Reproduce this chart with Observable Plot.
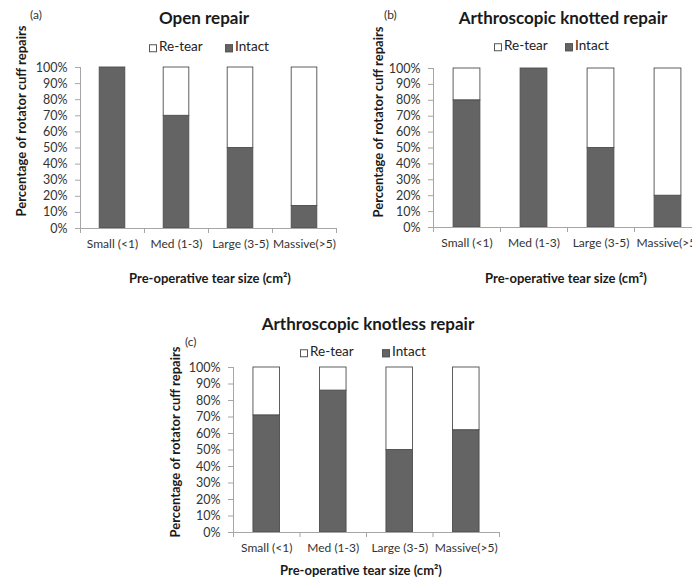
<!DOCTYPE html>
<html>
<head>
<meta charset="utf-8">
<script src="https://cdn.jsdelivr.net/npm/d3@7"></script>
<script src="https://cdn.jsdelivr.net/npm/@observablehq/plot@0.6"></script>
<style>
  html, body { margin: 0; padding: 0; background: #fff; }
  #root { position: relative; width: 692px; height: 580px; overflow: hidden; background: #fff; font-family: Lato, "Open Sans", sans-serif; }
  .lbl { position: absolute; white-space: nowrap; line-height: 1; color: #222; }
  .sq { display: inline-block; width: 8px; height: 8px; border: 1px solid #555; margin-right: 2px; vertical-align: -0.04em; box-sizing: border-box; }
</style>
</head>
<body>
<div id="root"></div>
<script>
// ---- data ----
const categories = ["Small (<1)", "Med (1-3)", "Large (3-5)", "Massive(>5)"];
const statuses = ["Re-tear", "Intact"];
const yTicks = [0, 10, 20, 30, 40, 50, 60, 70, 80, 90, 100];
const openIntact = [100, 70, 50, 14];
const openRetear = [0, 30, 50, 86];
const knottedIntact = [80, 100, 50, 20];
const knottedRetear = [20, 0, 50, 80];
const knotlessIntact = [71, 86, 50, 62];
const knotlessRetear = [29, 14, 50, 38];

const root = document.getElementById("root");
const INTACT = "#646464";
const AXIS = "#a6a6a6";

function rowsFor(intact, retear) {
  const rows = [];
  categories.forEach((c, i) => {
    rows.push({i, cat: c, status: "Intact", y1: 0, y2: intact[i]});
    rows.push({i, cat: c, status: "Re-tear", y1: intact[i], y2: intact[i] + retear[i]});
  });
  return rows.filter(r => r.y2 > r.y1);
}

function place(html, x, y, opts = {}) {
  const d = document.createElement("div");
  d.className = "lbl";
  d.innerHTML = html;
  d.style.left = x + "px";
  d.style.top = y + "px";
  const anchorX = opts.anchor === "start" ? "0" : "-50%";
  d.style.transform = `translate(${anchorX}, -50%)`;
  if (opts.rotate) d.style.transform = `translate(-50%, -50%) rotate(${opts.rotate}deg)`;
  d.style.fontSize = (opts.size || 12) + "px";
  d.style.fontWeight = opts.bold ? "700" : "400";
  if (opts.color) d.style.color = opts.color;
  root.appendChild(d);
  return d;
}

function panel(p) {
  const chart = Plot.plot({
    width: p.width,
    height: p.height,
    marginLeft: p.ml,
    marginRight: p.mr,
    marginTop: p.mt,
    marginBottom: p.mb,
    x: {domain: [0, categories.length], axis: null},
    y: {domain: [0, 100], axis: null},
    color: {domain: statuses, range: ["#ffffff", INTACT]},
    style: {fontFamily: "Lato, 'Open Sans', sans-serif", background: "transparent", color: "#333", overflow: "visible"},
    marks: [
      Plot.rectY(rowsFor(p.intact, p.retear), {
        x1: d => d.i + 0.3,
        x2: d => d.i + 0.7,
        y1: "y1",
        y2: "y2",
        fill: "status",
        stroke: "#4d4d4d",
        strokeWidth: 0.9
      }),
      Plot.ruleY([0], {stroke: AXIS, strokeWidth: 1}),
      Plot.ruleX([0], {stroke: AXIS, strokeWidth: 1}),
      Plot.axisY({ticks: yTicks, tickFormat: d => d + "%", tickSize: 5, tickPadding: 8, stroke: AXIS, fill: "#333", fontSize: 12.5, label: null}),
      Plot.axisX({ticks: d3.range(categories.length + 1), tickFormat: () => "", tickSize: 5, stroke: AXIS, label: null}),
      Plot.axisX({ticks: categories.map((c, i) => i + 0.5), tickFormat: d => categories[Math.floor(d)], tickSize: 0, tickPadding: 11, fill: "#333", fontSize: 12, label: null})
    ]
  });
  chart.style.position = "absolute";
  chart.style.left = p.left + "px";
  chart.style.top = p.top + "px";
  root.appendChild(chart);

  place(p.title, p.titleX, p.titleY, {size: 17, bold: true, color: "#1a1a1a"});
  place(p.tag, p.tagX, p.tagY, {size: 12, color: "#333", anchor: "start"});
  place(`<span class="sq" style="background:#fff"></span>Re-tear`, p.legX1, p.legY, {size: 13.5, anchor: "start", color: "#222"});
  place(`<span class="sq" style="background:${INTACT}"></span>Intact`, p.legX2, p.legY, {size: 13.5, anchor: "start", color: "#222"});
  place("Percentage of rotator cuff repairs", p.ytX, p.ytY, {size: 13, bold: true, rotate: -90, color: "#1a1a1a"});
  place("Pre-operative tear size (cm²)", p.xtX, p.xtY, {size: 13, bold: true, color: "#1a1a1a"});
}

panel({
  intact: openIntact, retear: openRetear,
  left: 0, top: 0, width: 346, height: 290, ml: 80, mr: 10, mt: 67, mb: 62,
  title: "Open repair", titleX: 204, titleY: 17,
  tag: "(a)", tagX: 30, tagY: 15,
  legX1: 149, legX2: 225, legY: 47,
  ytX: 21, ytY: 121,
  xtX: 210, xtY: 278
});

panel({
  intact: knottedIntact, retear: knottedRetear,
  left: 346, top: 0, width: 365, height: 290, ml: 87, mr: 10, mt: 68, mb: 63,
  title: "Arthroscopic knotted repair", titleX: 563, titleY: 17,
  tag: "(b)", tagX: 384, tagY: 15,
  legX1: 494, legX2: 565, legY: 46,
  ytX: 378, ytY: 122,
  xtX: 566, xtY: 278
});

panel({
  intact: knotlessIntact, retear: knotlessRetear,
  left: 140, top: 290, width: 380, height: 290, ml: 93, mr: 21, mt: 77, mb: 48,
  title: "Arthroscopic knotless repair", titleX: 368, titleY: 323,
  tag: "(c)", tagX: 185, tagY: 342,
  legX1: 300, legX2: 382, legY: 352,
  ytX: 175, ytY: 442,
  xtX: 361, xtY: 570
});
</script>
</body>
</html>
